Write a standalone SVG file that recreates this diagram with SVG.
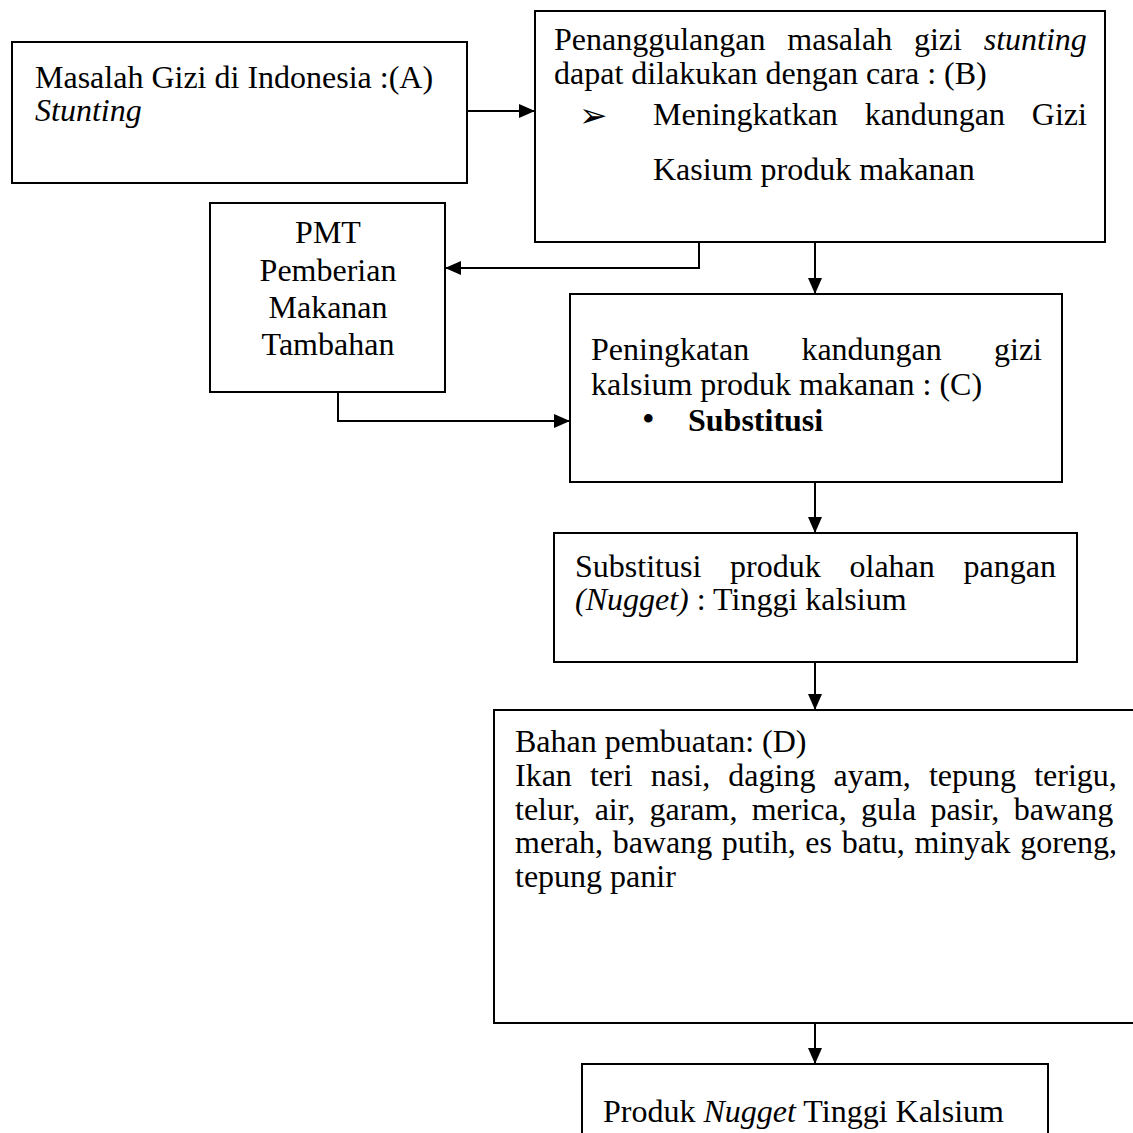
<svg xmlns="http://www.w3.org/2000/svg" width="1133" height="1133" viewBox="0 0 1133 1133">
<defs>
<style>
.box{fill:#fff;stroke:#000;stroke-width:2}
.t{font-family:"Liberation Serif","Times New Roman",serif;font-size:32px;fill:#000}
.i{font-style:italic}
.b{font-weight:bold}
.c{stroke:#000;stroke-width:2;fill:none}
</style>
<marker id="ah" markerUnits="userSpaceOnUse" markerWidth="16" markerHeight="14" refX="16" refY="7" orient="auto">
<path d="M0,0 L16,7 L0,14 Z" fill="#000"/>
</marker>
</defs>
<rect width="1133" height="1133" fill="#fff"/>
<g id="nodeA">
<rect class="box" x="12" y="42" width="455" height="141"/>
<text class="t" x="35" y="88">Masalah Gizi di Indonesia :(A)</text>
<text class="t i" x="35" y="121">Stunting</text>
</g>
<g id="nodeB">
<rect class="box" x="535" y="11" width="570" height="231"/>
<text class="t" x="554" y="50" word-spacing="13.8">Penanggulangan masalah gizi <tspan class="i">stunting</tspan></text>
<text class="t" x="554" y="84">dapat dilakukan dengan cara : (B)</text>
<text x="579" y="127" style="font-family:'DejaVu Sans',sans-serif;font-size:34px;font-weight:bold">➢</text>
<text class="t" x="653" y="125" word-spacing="18.8">Meningkatkan kandungan Gizi</text>
<text class="t" x="653" y="180">Kasium produk makanan</text>
</g>
<g id="nodePMT">
<rect class="box" x="210" y="203" width="235" height="189"/>
<text class="t" x="328" y="243" text-anchor="middle">PMT</text>
<text class="t" x="328" y="281" text-anchor="middle">Pemberian</text>
<text class="t" x="328" y="318" text-anchor="middle">Makanan</text>
<text class="t" x="328" y="355" text-anchor="middle">Tambahan</text>
</g>
<g id="nodeC">
<rect class="box" x="570" y="294" width="492" height="188"/>
<text class="t" x="591" y="360" word-spacing="44.2">Peningkatan kandungan gizi</text>
<text class="t" x="591" y="395">kalsium produk makanan : (C)</text>
<text class="t" x="642" y="431" style="font-size:36px">•</text>
<text class="t b" x="688" y="431">Substitusi</text>
</g>
<g id="nodeD1">
<rect class="box" x="554" y="533" width="523" height="129"/>
<text class="t" x="575" y="577" word-spacing="20.8">Substitusi produk olahan pangan</text>
<text class="t" x="575" y="610"><tspan class="i">(Nugget)</tspan> : Tinggi kalsium</text>
</g>
<g id="nodeD">
<rect class="box" x="494" y="710" width="650" height="313"/>
<text class="t" x="515" y="752">Bahan pembuatan: (D)</text>
<text class="t" x="515" y="786" word-spacing="10.1">Ikan teri nasi, daging ayam, tepung terigu,</text>
<text class="t" x="515" y="820" word-spacing="6.3">telur, air, garam, merica, gula pasir, bawang</text>
<text class="t" x="515" y="853" word-spacing="1.7">merah, bawang putih, es batu, minyak goreng,</text>
<text class="t" x="515" y="887">tepung panir</text>
</g>
<g id="nodeE">
<rect class="box" x="582" y="1064" width="466" height="90"/>
<text class="t" x="603" y="1122">Produk <tspan class="i">Nugget</tspan> Tinggi Kalsium</text>
</g>
<g id="connectors">
<path class="c" d="M467,111 H535" marker-end="url(#ah)"/>
<path class="c" d="M699,242 V268 H445" marker-end="url(#ah)"/>
<path class="c" d="M815,242 V294" marker-end="url(#ah)"/>
<path class="c" d="M338,392 V421 H570" marker-end="url(#ah)"/>
<path class="c" d="M815,482 V533" marker-end="url(#ah)"/>
<path class="c" d="M815,662 V710" marker-end="url(#ah)"/>
<path class="c" d="M815,1023 V1064" marker-end="url(#ah)"/>
</g>
</svg>
